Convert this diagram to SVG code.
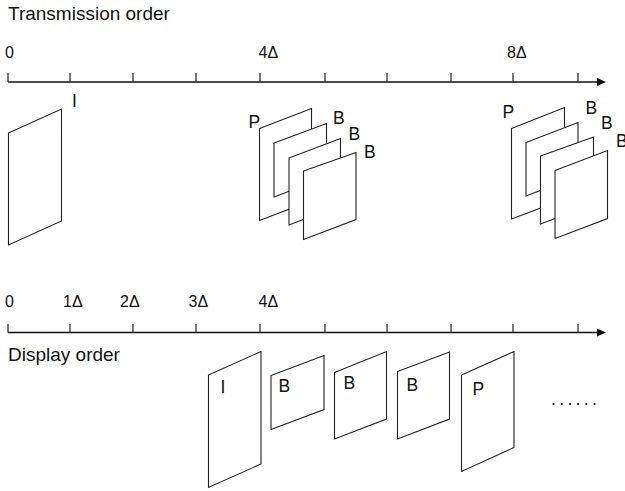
<svg xmlns="http://www.w3.org/2000/svg" width="625" height="491" viewBox="0 0 625 491">
<style>
text{font-family:"Liberation Sans",Arial,sans-serif;fill:#111}
.title{font-size:19px}
.ax{font-size:16px}
.lbl{font-size:17.5px}
.dots{font-size:18px}
.frame{fill:#fff;stroke:#222;stroke-width:1.1;stroke-linejoin:miter}
.axis{stroke:#111;stroke-width:1.7;fill:none}
.tick{stroke:#222;stroke-width:1.2}
.head{fill:#111}
</style>
<rect width="625" height="491" fill="#fff"/>
<text class="title" x="8" y="20">Transmission order</text>
<text class="title" x="8" y="361">Display order</text>

<g id="connectors">
  <g id="axis-transmission">
    <line class="axis" x1="8" y1="82" x2="600" y2="82"/>
    <polygon class="head" points="597,78 606,82 597,86"/>
    <path class="tick" d="M8,73V82M70,73V82M133,73V82M196,73V82M260,73V82M325,73V82M387,73V82M451,73V82M513,73V82M578,73V82"/>
  </g>
  <g id="axis-display">
    <line class="axis" x1="8" y1="332.5" x2="600" y2="332.5"/>
    <polygon class="head" points="597,328.5 606,332.5 597,336.5"/>
    <path class="tick" d="M8,324V332.5M70,324V332.5M133,324V332.5M196,324V332.5M260,324V332.5M325,324V332.5M387,324V332.5M451,324V332.5M513,324V332.5M578,324V332.5"/>
  </g>
</g>

<g id="ticks-labels-top">
  <text class="ax" x="5" y="57.5">0</text>
  <text class="ax" x="258.5" y="57.5">4Δ</text>
  <text class="ax" x="507" y="57.5">8Δ</text>
</g>
<g id="ticks-labels-bottom">
  <text class="ax" x="5" y="307">0</text>
  <text class="ax" x="63" y="307">1Δ</text>
  <text class="ax" x="120" y="307">2Δ</text>
  <text class="ax" x="188.5" y="307">3Δ</text>
  <text class="ax" x="258.5" y="307">4Δ</text>
</g>

<g id="tx-I">
  <polygon class="frame" points="8.5,133 61.5,109 61.5,221 8.5,245"/>
  <text class="lbl" x="72" y="107">I</text>
</g>

<g id="tx-group-4">
  <polygon class="frame" points="259.5,128.5 311.5,108.5 311.5,200.5 259.5,220.5"/>
  <polygon class="frame" points="274,143 326.5,123.5 326.5,177 274,197"/>
  <polygon class="frame" points="289,158 340.5,138.5 340.5,205 289,225"/>
  <polygon class="frame" points="303.5,171 356,152.5 356,219.5 303.5,239.5"/>
  <text class="lbl" x="248.5" y="127.5">P</text>
  <text class="lbl" x="333" y="123.5">B</text>
  <text class="lbl" x="348.5" y="139.5">B</text>
  <text class="lbl" x="364" y="158">B</text>
</g>

<g id="tx-group-8">
  <polygon class="frame" points="511.5,128.5 564.5,107.5 564.5,199 511.5,219"/>
  <polygon class="frame" points="526,142.5 578,122.5 578,176 526,196"/>
  <polygon class="frame" points="540.5,156 593.5,137 593.5,204 540.5,224"/>
  <polygon class="frame" points="555,170.5 607.5,150.5 607.5,218.5 555,238.5"/>
  <text class="lbl" x="502.5" y="118">P</text>
  <text class="lbl" x="585.5" y="113.5">B</text>
  <text class="lbl" x="601" y="129">B</text>
  <text class="lbl" x="616" y="147">B</text>
</g>

<g id="disp-I">
  <polygon class="frame" points="208.5,375 261,351.5 261,464 208.5,487.5"/>
  <text class="lbl" x="220.5" y="393">I</text>
</g>
<g id="disp-B1">
  <polygon class="frame" points="271,375.5 324,355.5 324,409.5 271,429.5"/>
  <text class="lbl" x="278.5" y="392">B</text>
</g>
<g id="disp-B2">
  <polygon class="frame" points="334.5,372.5 386.5,351.5 386.5,419 334.5,439"/>
  <text class="lbl" x="343.5" y="388.5">B</text>
</g>
<g id="disp-B3">
  <polygon class="frame" points="397.5,371.5 449.5,352 449.5,419 397.5,439"/>
  <text class="lbl" x="406.5" y="391">B</text>
</g>
<g id="disp-P">
  <polygon class="frame" points="461.5,375 514,351.5 514,447.5 461.5,471.5"/>
  <text class="lbl" x="472.5" y="395">P</text>
</g>
<text class="dots" x="551" y="405" letter-spacing="3.2">......</text>
</svg>
